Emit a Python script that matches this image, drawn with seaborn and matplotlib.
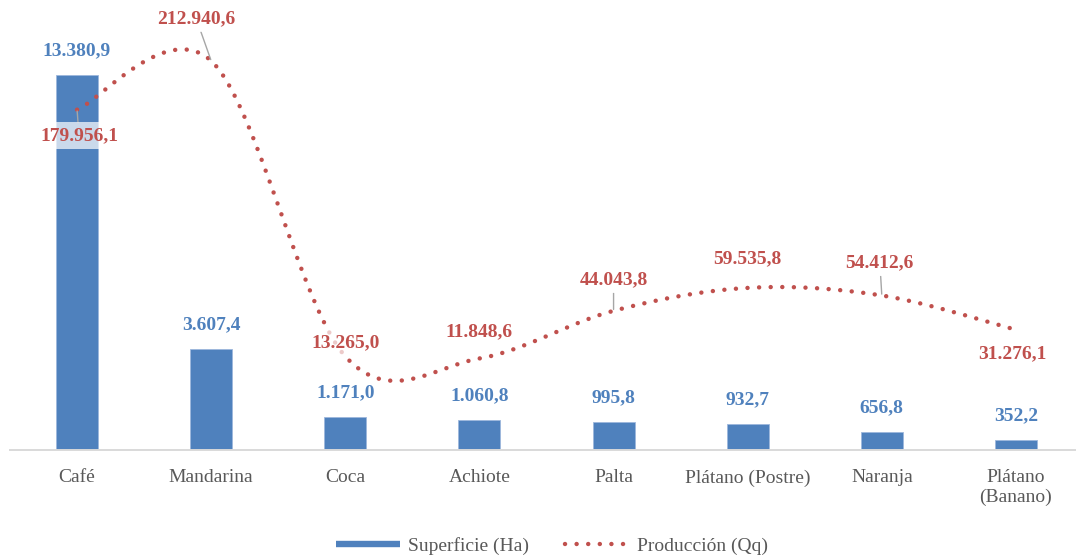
import numpy as np
import pandas as pd
import matplotlib
matplotlib.use("Agg")
import matplotlib.pyplot as plt
from matplotlib.lines import Line2D
import seaborn as sns

# Cultivos y valores
cultivos = ["Café", "Mandarina", "Coca", "Achiote", "Palta",
            "Plátano (Postre)", "Naranja", "Plátano\n(Banano)"]
superficie_ha = [13380.9, 3607.4, 1171.0, 1060.8, 995.8, 932.7, 656.8, 352.2]
produccion_qq = [179956.1, 212940.6, 13265.0, 11848.6, 44043.8, 59535.8, 54412.6, 31276.1]

AZUL = "#4F81BD"
AZUL_TXT = "#4F81BD"
ROJO = "#C0504D"
GRIS = "#595959"

sns.set_theme(style="white")
plt.rcParams["font.family"] = ["Liberation Serif", "DejaVu Serif"]


def fmt_es(v):
    s = f"{v:,.1f}"
    return s.replace(",", "X").replace(".", ",").replace("X", ".")


def curva_suave(xs, ys, n=40):
    """Curva Bezier que pasa por cada punto (suavizado tipo hoja de cálculo)."""
    P = np.column_stack([xs, ys]).astype(float)
    m = len(P)
    out = []
    for i in range(m - 1):
        p0 = P[i]
        p3 = P[i + 1]
        prev = P[i - 1] if i > 0 else P[i]
        nxt = P[i + 2] if i + 2 < m else P[i + 1]
        c1 = p0 + (p3 - prev) / 6.0
        c2 = p3 - (nxt - p0) / 6.0
        t = np.linspace(0, 1, n, endpoint=(i == m - 2))[:, None]
        seg = ((1 - t) ** 3) * p0 + 3 * ((1 - t) ** 2) * t * c1 + 3 * (1 - t) * t ** 2 * c2 + t ** 3 * p3
        out.append(seg)
    out = np.vstack(out)
    return out[:, 0], out[:, 1]


W, H = 1076, 559
fig = plt.figure(figsize=(W / 100, H / 100), dpi=100)
ax = fig.add_axes([10 / W, (H - 450) / H, (1083 - 10) / W, (450 - 6) / H])

df = pd.DataFrame({"cultivo": cultivos, "superficie": superficie_ha, "produccion": produccion_qq})

sns.barplot(data=df, x="cultivo", y="superficie", color=AZUL, width=0.313,
            edgecolor="#9DB7DC", linewidth=0.6, saturation=1, ax=ax, zorder=2)
ax.set_ylim(0, 15860)
ax.set_xlim(-0.5, len(cultivos) - 0.5)
ax.set_xlabel("")
ax.set_ylabel("")
ax.set_yticks([])
for s in ["top", "left", "right"]:
    ax.spines[s].set_visible(False)
ax.spines["bottom"].set_color("#D9D9D9")
ax.spines["bottom"].set_linewidth(1.4)
ax.tick_params(axis="x", length=0, pad=14, labelsize=14, colors=GRIS)

# Etiquetas de superficie
for i, v in enumerate(superficie_ha):
    ax.annotate(fmt_es(v), (i, v), xytext=(0, 17.5), textcoords="offset points",
                ha="center", va="center", fontsize=14, fontweight="bold",
                color=AZUL_TXT, zorder=5)

# Eje secundario para la producción
ax2 = ax.twinx()
ax2.set_ylim(-50000, 250000)
ax2.set_yticks([])
for s in ax2.spines.values():
    s.set_visible(False)

PUNTEADO = (0, (0.01, 2.6))
xp = np.arange(len(cultivos))
xs, ys = curva_suave(xp, produccion_qq)
sns.lineplot(x=xs, y=ys, ax=ax2, color=ROJO, linewidth=3.2, sort=False,
             estimator=None, zorder=3)
linea = ax2.lines[-1]
linea.set_linestyle(PUNTEADO)
linea.set_dash_capstyle("round")

# Etiquetas de producción (desplazamiento en puntos) y líneas guía
desplaz = [(1.4, -18.7), (-10.8, 30.5), (0, 9.6), (0, 19.0),
           (0, 22.3), (0, 20.9), (-1.4, 23.4), (-2.9, -17.6)]
guia = [True, True, False, False, True, False, True, False]
for i, v in enumerate(produccion_qq):
    kw = {}
    if guia[i]:
        kw["arrowprops"] = dict(arrowstyle="-", color="#A6A6A6", lw=1.0,
                                shrinkA=0, shrinkB=1)
    ax2.annotate(fmt_es(v), (i, v), xytext=desplaz[i], textcoords="offset points",
                 ha="center", va="center", fontsize=14, fontweight="bold", color=ROJO,
                 bbox=dict(boxstyle="square,pad=0.25", facecolor=(1, 1, 1, 0.7),
                           edgecolor="none"),
                 zorder=6, **kw)

# Leyenda
h1 = Line2D([], [], color=AZUL, linewidth=4.6, solid_capstyle="butt")
h2 = Line2D([], [], color=ROJO, linewidth=3.2, linestyle=PUNTEADO,
            dash_capstyle="round")
fig.legend([h1, h2], ["Superficie (Ha)", "Producción (Qq)"], loc="center",
           bbox_to_anchor=(552 / W, 1 - 546 / H), ncol=2, frameon=False,
           fontsize=14, handlelength=3.3, handletextpad=0.45, columnspacing=1.8,
           labelcolor=GRIS)

fig.savefig("out.png", dpi=100)
